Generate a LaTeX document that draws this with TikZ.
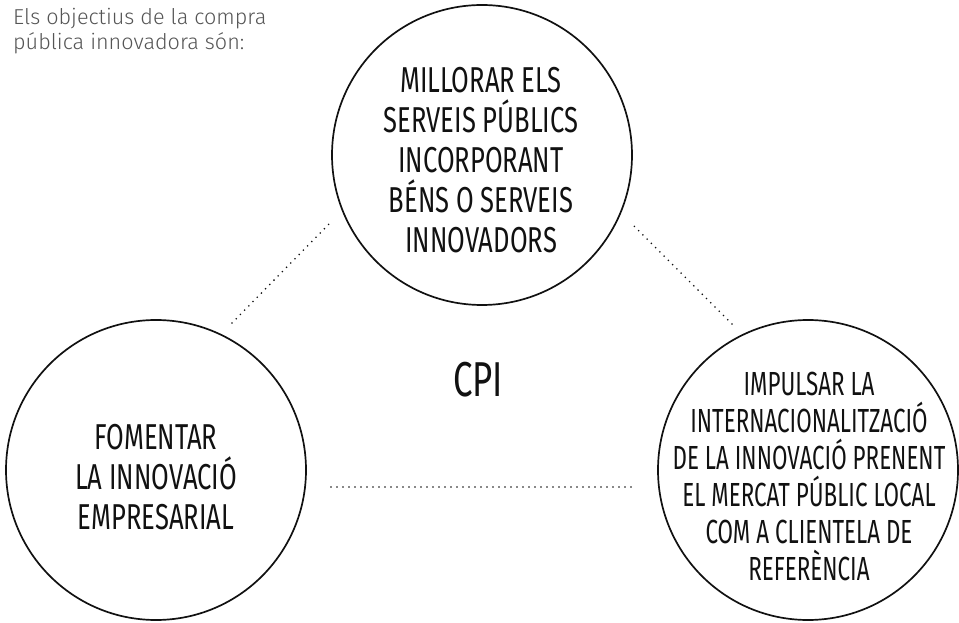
\documentclass[tikz,border=0pt]{standalone}
\usepackage{fontspec}
\setmainfont{Fira Sans Light}
\newfontfamily\condfont[FakeStretch=0.71]{Fira Sans}
\newfontfamily\condfontb[FakeStretch=0.67]{Fira Sans}
\usetikzlibrary{calc}
\definecolor{introgrey}{HTML}{555555}
\definecolor{ink}{HTML}{111111}
\begin{document}
\begin{tikzpicture}[x=1pt,y=1pt,
  circ/.style={circle,draw=ink,line width=1.7pt,minimum size=300pt,inner sep=0pt},
  ctext/.style={align=center,text=ink,inner sep=0pt,font=\condfont\fontsize{36}{40}\selectfont},
  csmall/.style={align=center,text=ink,inner sep=0pt,font=\condfontb\fontsize{33.4}{37}\selectfont},
  dots/.style={draw=ink,line width=1.8pt,dash pattern=on 0pt off 6pt,line cap=round}]
\useasboundingbox (0,0) rectangle (959,622);
% intro text
\node[anchor=north west,align=left,inner sep=0pt,text=introgrey,
      font=\fontsize{21.6}{25}\selectfont] (intro) at (13,614)
  {Els objectius de la compra\\pública innovadora són:};
% circles
\node[circ] (T) at (482,467) {};
\node[circ] (L) at (156,152) {};
\node[circ] (R) at (808,152) {};
% circle texts
\node[ctext] (Tt) at (481,461.5) {MILLORAR ELS\\SERVEIS PÚBLICS\\INCORPORANT\\BÉNS O SERVEIS\\INNOVADORS};
\node[ctext] (Lt) at (156,144.5) {FOMENTAR\\LA INNOVACIÓ\\EMPRESARIAL};
\node[csmall] (Rt) at (809,146) {IMPULSAR LA\\INTERNACIONALITZACIÓ\\DE LA INNOVACIÓ PRENENT\\EL MERCAT PÚBLIC LOCAL\\COM A CLIENTELA DE\\REFERÈNCIA};
% centre label
\node[text=ink,inner sep=0pt,font=\condfont\fontsize{49}{55}\selectfont] (cpi) at (478,242) {CPI};
% connector ends
\coordinate (lt1) at ($(L)+(76,147)$);
\coordinate (lt2) at ($(T)+(-152,-68)$);
\coordinate (rt1) at ($(R)+(-76,146)$);
\coordinate (rt2) at ($(T)+(151,-70)$);
\coordinate (lr1) at ($(L)+(175,-17)$);
\coordinate (lr2) at ($(R)+(-175,-17)$);
\draw[dots] (lt1) -- (lt2);
\draw[dots] (rt1) -- (rt2);
\draw[dots] (lr1) -- (lr2);
\end{tikzpicture}
\end{document}
